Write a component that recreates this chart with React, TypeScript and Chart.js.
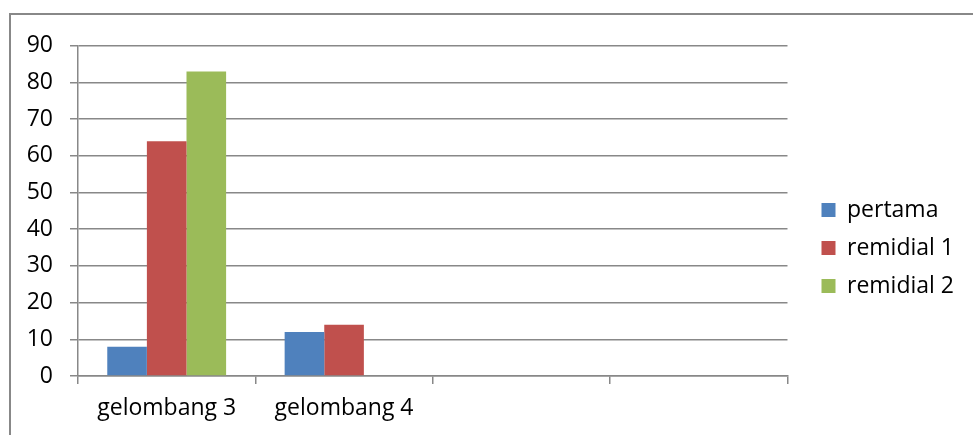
import React, { useEffect, useRef } from "react";
import { Chart, registerables } from "chart.js";

Chart.register(...registerables);

const categories = ["gelombang 3", "gelombang 4", "", ""];
const pertama: (number | null)[] = [8, 12, null, null];
const remidial1: (number | null)[] = [64, 14, null, null];
const remidial2: (number | null)[] = [83, null, null, null];
const seriesNames = ["pertama", "remidial 1", "remidial 2"];
const seriesColors = ["#4F81BD", "#C0504D", "#9BBB59"];
const yMin = 0;
const yMax = 90;
const yStep = 10;

const GRID = "#888888";
const FONT = { family: "Open Sans", size: 23 };
const CANVAS_W = 953;
const CANVAS_H = 438;
const PLOT_BOTTOM = 361;

export default function App() {
  const ref = useRef<HTMLCanvasElement | null>(null);

  useEffect(() => {
    if (!ref.current) return;
    const chart = new Chart(ref.current, {
      type: "bar",
      data: {
        labels: categories,
        datasets: [pertama, remidial1, remidial2].map((d, i) => ({
          label: seriesNames[i],
          data: d,
          backgroundColor: seriesColors[i],
          borderWidth: 0,
          categoryPercentage: 0.67,
          barPercentage: 1,
        })),
      },
      options: {
        responsive: false,
        animation: false,
        layout: { padding: { top: 28, left: 0, right: 0, bottom: 0 } },
        plugins: {
          tooltip: { enabled: false },
          legend: {
            position: "right",
            align: "center",
            labels: {
              boxWidth: 14,
              boxHeight: 14,
              padding: 15,
              color: "#000",
              font: FONT,
            },
          },
        },
        scales: {
          x: {
            offset: true,
            grid: {
              display: true,
              drawOnChartArea: false,
              drawTicks: true,
              tickLength: 8,
              color: GRID,
              lineWidth: 1.5,
              offset: true,
            },
            border: { display: true, color: GRID, width: 1.5 },
            ticks: {
              color: "#000",
              font: FONT,
              padding: 11,
              maxRotation: 0,
              autoSkip: false,
            },
            afterFit: (s: any) => {
              s.height = CANVAS_H - PLOT_BOTTOM;
            },
          },
          y: {
            min: yMin,
            max: yMax,
            ticks: { stepSize: yStep, color: "#000", font: FONT, padding: 17 },
            grid: { color: GRID, lineWidth: 1.5, tickLength: 8 },
            border: { display: true, color: GRID, width: 1.5 },
            afterFit: (s: any) => {
              s.width = 67;
            },
          },
          spacer: {
            type: "linear",
            position: "right",
            display: true,
            grid: { display: false },
            border: { display: false },
            ticks: { display: false },
            afterFit: (s: any) => {
              s.width = 19;
            },
          },
        },
      } as any,
    });
    return () => chart.destroy();
  }, []);

  return (
    <div
      style={{
        position: "fixed",
        left: 0,
        top: 0,
        width: 973,
        height: 435,
        overflow: "hidden",
        background: "#fff",
      }}
    >
      <div
        style={{
          position: "absolute",
          left: 9,
          top: 13,
          width: 990,
          height: 500,
          border: "2px solid #888888",
        }}
      />
      <canvas
        ref={ref}
        width={CANVAS_W}
        height={CANVAS_H}
        style={{ position: "absolute", left: 11, top: 15, display: "block" }}
      />
    </div>
  );
}
